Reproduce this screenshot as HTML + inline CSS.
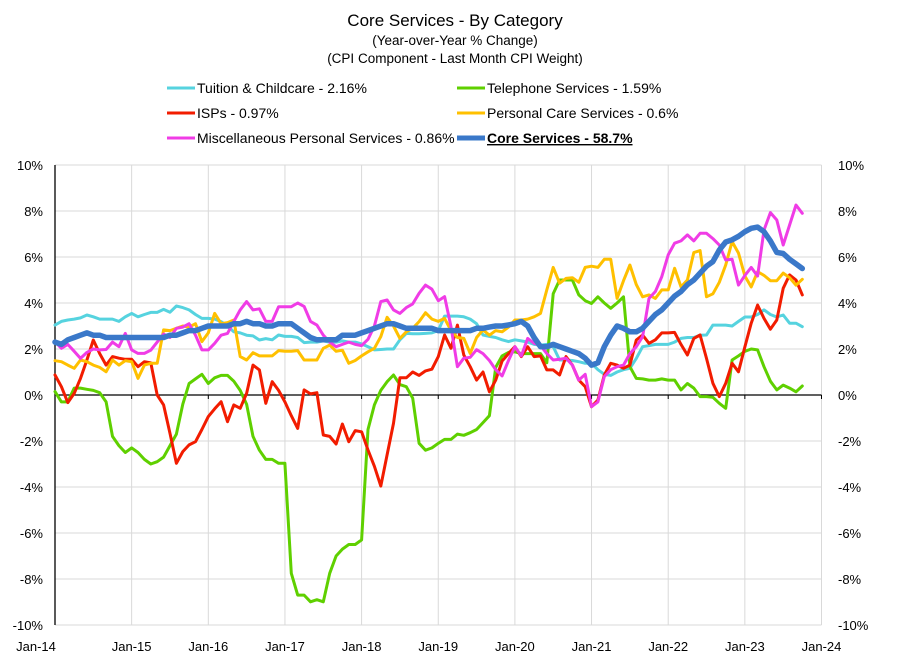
<!DOCTYPE html>
<html><head><meta charset="utf-8"><style>
body{margin:0;background:#fff;}
svg{display:block;font-family:"Liberation Sans",sans-serif;}
</style></head><body>
<svg id="chart" width="910" height="660" viewBox="0 0 910 660">
<rect width="910" height="660" fill="#fff"/>
<g text-anchor="middle" fill="#000">
<text x="455" y="26" font-size="17">Core Services  - By Category</text>
<text x="455" y="45" font-size="13.5">(Year-over-Year % Change)</text>
<text x="455" y="63" font-size="13.5">(CPI Component - Last Month CPI Weight)</text>
</g>
<g id="legend" font-size="14" fill="#000"></g>
<g id="grid"></g>
<g id="axes"></g>
<g id="series"></g>
</svg>
<script>
const xLabels=["Jan-14","Jan-15","Jan-16","Jan-17","Jan-18","Jan-19","Jan-20","Jan-21","Jan-22","Jan-23","Jan-24"];
const yTicks=[10,8,6,4,2,0,-2,-4,-6,-8,-10];
const tuition=[3.04,3.2,3.26,3.3,3.35,3.48,3.4,3.3,3.3,3.3,3.2,3.4,
3.55,3.4,3.5,3.59,3.59,3.72,3.6,3.87,3.8,3.7,3.5,3.33,
3.33,3.3,3.19,3.0,2.75,2.7,2.6,2.57,2.39,2.45,2.4,2.61,
2.55,2.55,2.5,2.28,2.3,2.3,2.35,2.3,2.3,2.35,2.3,2.3,
2.22,2.1,1.96,1.98,2.0,2.0,2.4,2.68,2.66,2.66,2.68,2.7,
2.8,3.43,3.43,3.43,3.4,3.3,3.1,2.61,2.55,2.5,2.4,2.32,
2.4,2.35,2.3,2.2,2.17,2.2,2.1,1.52,1.52,1.5,1.45,1.38,
1.38,1.1,0.9,0.85,1.0,1.1,1.16,1.59,2.1,2.15,2.2,2.2,
2.2,2.3,2.46,2.5,2.5,2.6,2.61,3.04,3.04,3.04,3.0,3.2,
3.39,3.39,3.5,3.7,3.5,3.39,3.48,3.12,3.12,2.97];
const telephone=[0.15,-0.3,-0.3,0.3,0.3,0.25,0.2,0.1,-0.3,-1.8,-2.2,-2.5,
-2.3,-2.5,-2.8,-3.0,-2.9,-2.7,-2.2,-1.7,-0.4,0.5,0.7,0.9,
0.5,0.75,0.85,0.85,0.6,0.2,-0.4,-1.8,-2.4,-2.8,-2.8,-2.97,
-2.97,-7.75,-8.7,-8.7,-8.99,-8.9,-8.99,-7.75,-7.0,-6.7,-6.5,-6.5,
-6.3,-1.5,-0.43,0.2,0.58,0.87,0.45,0.36,-0.14,-2.1,-2.4,-2.3,
-2.1,-1.93,-1.93,-1.7,-1.75,-1.64,-1.5,-1.2,-0.9,1.2,1.7,1.85,
1.88,1.8,1.8,1.8,1.8,1.4,4.4,5.0,5.0,5.0,4.35,4.1,
3.98,4.27,4.0,3.77,4.0,4.27,1.23,0.72,0.7,0.65,0.65,0.7,
0.65,0.65,0.22,0.5,0.3,-0.07,-0.07,-0.1,-0.36,-0.58,1.52,1.7,
1.9,2.0,1.96,1.23,0.6,0.22,0.43,0.3,0.14,0.39];
const isps=[0.87,0.36,-0.33,0.07,0.72,1.52,2.39,1.8,1.3,1.67,1.6,1.55,
1.55,1.23,1.45,1.4,0.0,-0.43,-1.67,-2.97,-2.46,-2.17,-2.03,-1.5,
-0.94,-0.6,-0.29,-1.16,-0.43,-0.58,0.07,1.3,1.09,-0.36,0.58,0.2,
-0.3,-0.9,-1.45,0.22,0.05,0.1,-1.74,-1.8,-2.13,-1.26,-2.03,-1.55,
-1.6,-2.39,-3.1,-3.96,-2.6,-1.23,0.75,0.75,1.0,0.85,1.05,1.12,
1.67,2.61,2.03,3.04,1.74,1.23,0.65,1.0,0.14,0.65,1.48,1.8,
2.1,1.67,2.1,1.67,1.7,1.09,1.09,0.87,1.67,1.3,0.65,0.36,
-0.51,-0.22,0.87,1.38,1.3,1.16,1.3,2.39,2.61,2.25,2.4,2.7,
2.7,2.72,2.2,1.74,2.46,2.61,1.59,0.51,-0.07,0.51,1.38,1.01,
2.1,3.12,3.91,3.33,2.86,3.26,4.64,5.22,5.0,4.35];
const personalCare=[1.49,1.45,1.3,1.16,1.52,1.45,1.3,1.2,1.01,1.52,1.3,1.49,
1.45,0.72,1.3,1.38,1.38,2.83,2.8,2.9,3.0,2.95,3.1,2.32,
2.7,3.55,3.1,3.15,3.26,1.67,1.52,1.84,1.7,1.7,1.7,1.93,
1.9,1.9,1.93,1.52,1.52,1.52,2.03,2.17,1.9,1.95,1.38,1.5,
1.7,1.88,2.03,2.54,3.38,3.0,2.46,2.75,2.9,3.19,3.58,3.3,
3.2,3.33,2.8,2.5,2.46,1.81,2.5,2.83,2.6,2.8,2.75,2.95,
3.26,3.26,3.3,3.4,3.55,4.57,5.55,4.86,5.07,5.1,4.9,5.55,
5.6,5.55,5.9,5.9,4.2,4.97,5.65,4.8,4.27,4.35,4.2,4.57,
4.57,5.51,4.7,5.0,6.19,6.28,4.27,4.4,4.9,5.65,6.67,6.17,
5.17,4.7,5.36,5.2,4.97,4.97,5.3,5.1,4.78,5.03];
const miscPersonal=[2.32,2.03,2.2,1.9,1.59,1.85,2.0,1.96,1.98,2.3,2.1,2.68,
1.96,1.81,1.81,1.95,2.3,2.65,2.5,2.9,2.95,3.1,2.6,1.96,
1.96,2.25,2.6,2.68,3.19,3.7,4.06,3.7,3.75,3.2,3.2,3.84,
3.84,3.84,4.0,3.85,3.2,3.04,2.6,2.3,2.1,2.2,2.3,2.2,
2.15,2.42,3.0,4.06,4.13,3.7,3.55,3.8,3.96,4.42,4.78,4.6,
4.1,4.28,2.97,1.23,1.6,1.64,1.97,1.8,1.5,1.1,0.83,1.5,
2.1,1.7,2.46,2.25,2.15,1.8,1.52,1.55,1.6,1.3,0.65,0.9,
-0.51,-0.3,0.8,1.1,1.23,1.3,1.8,2.1,2.54,4.2,4.5,5.15,
6.09,6.6,6.7,6.96,6.7,7.03,7.03,6.8,6.52,5.87,5.9,4.78,
5.2,5.55,5.17,7.17,7.93,7.61,6.52,7.39,8.26,7.9];
const coreServices=[2.3,2.2,2.4,2.5,2.6,2.7,2.6,2.6,2.5,2.5,2.5,2.5,
2.5,2.5,2.5,2.5,2.5,2.5,2.6,2.6,2.7,2.8,2.8,2.9,
3.0,3.0,3.0,3.0,3.1,3.1,3.2,3.1,3.1,3.0,3.0,3.1,
3.1,3.1,2.9,2.7,2.5,2.4,2.4,2.4,2.4,2.6,2.6,2.6,
2.7,2.8,2.9,3.0,3.1,3.1,3.0,2.9,2.9,2.9,2.9,2.9,
2.8,2.8,2.8,2.8,2.8,2.8,2.9,2.9,2.95,3.0,3.0,3.05,
3.1,3.2,3.0,2.5,2.1,2.1,2.2,2.1,2.0,1.9,1.8,1.6,
1.3,1.4,2.1,2.6,3.0,2.9,2.75,2.75,2.9,3.2,3.5,3.7,
4.0,4.3,4.5,4.8,5.0,5.3,5.6,5.8,6.3,6.65,6.75,6.9,
7.1,7.25,7.3,7.1,6.7,6.2,6.15,5.9,5.7,5.5];
const seriesNames=["Tuition & Childcare - 2.16%","Telephone Services - 1.59%","ISPs - 0.97%","Personal Care Services - 0.6%","Miscellaneous Personal Services - 0.86%","Core Services - 58.7%"];

const NS="http://www.w3.org/2000/svg";
const X0=55,X1=821.5,Y0=165,Y1=625;
function xScale(m){return X0+(X1-X0)*m/120;}
function yScale(v){return Y0+(10-v)*(Y1-Y0)/20;}
function mk(tag,attrs,parent){const e=document.createElementNS(NS,tag);for(const k in attrs)e.setAttribute(k,attrs[k]);parent.appendChild(e);return e;}
const grid=document.getElementById('grid'),axes=document.getElementById('axes'),ser=document.getElementById('series'),leg=document.getElementById('legend');

yTicks.forEach(v=>{
  const y=yScale(v);
  if(v!==0){const l=mk('line',{x1:X0,x2:X1,y1:y,y2:y,stroke:'#d9d9d9','stroke-width':1},grid);
  
  }
  const t1=mk('text',{x:43,y:y+5,'text-anchor':'end','font-size':13,fill:'#000'},axes);t1.textContent=v+'%';
  
  
  const t2=mk('text',{x:838,y:y+5,'text-anchor':'start','font-size':13,fill:'#000'},axes);t2.textContent=v+'%';
  
  
});
xLabels.forEach((lab,i)=>{
  const x=xScale(i*12);
  if(i>0){const l=mk('line',{x1:x,x2:x,y1:Y0,y2:Y1,stroke:'#d9d9d9','stroke-width':1},grid);
  
  }
  const tk=mk('line',{x1:x,x2:x,y1:yScale(0),y2:yScale(0)+4,stroke:'#000','stroke-width':1},axes);
  
  
  const t=mk('text',{x:(i===0?36:x),y:651,'text-anchor':'middle','font-size':13,fill:'#000'},axes);t.textContent=lab;
  
  
});
const zl=mk('line',{x1:X0,x2:X1,y1:yScale(0),y2:yScale(0),stroke:'#000','stroke-width':1.3},axes);


const ya=mk('line',{x1:X0,x2:X0,y1:Y0,y2:Y1,stroke:'#000','stroke-width':1.3},axes);



const defs=[
 [tuition,'#56d3df',3,'tuition-line'],
 [telephone,'#5fd000',3,'telephone-line'],
 [isps,'#f21c00',3,'isps-line'],
 [personalCare,'#ffc000',3,'personal-care-line'],
 [miscPersonal,'#f03ce6',3,'misc-personal-line'],
 [coreServices,'#3a78c9',5.5,'core-services-line']];
defs.forEach(d=>{
  const pts=d[0].map((v,i)=>xScale(i).toFixed(1)+','+yScale(v).toFixed(1)).join(' ');
  const p=mk('polyline',{points:pts,fill:'none',stroke:d[1],'stroke-width':d[2],'stroke-linejoin':'round','stroke-linecap':'round'},ser);
  
  
});

const legPos=[[167,88],[457,88],[167,113],[457,113],[167,138],[457,138]];
const order=[0,1,2,3,4,5];
order.forEach(i=>{
  const [lx,ly]=legPos[i];
  const g=mk('g',{},leg);
  
  
  mk('line',{x1:lx,x2:lx+28,y1:ly,y2:ly,stroke:defs[i][1],'stroke-width':i===5?5:3},g);
  const t=mk('text',{x:lx+30,y:ly+5,'font-size':14,fill:'#000'},g);
  t.textContent=seriesNames[i];
  if(i===5){t.setAttribute('font-weight','bold');t.setAttribute('text-decoration','underline');}
});
</script>
</body></html>
